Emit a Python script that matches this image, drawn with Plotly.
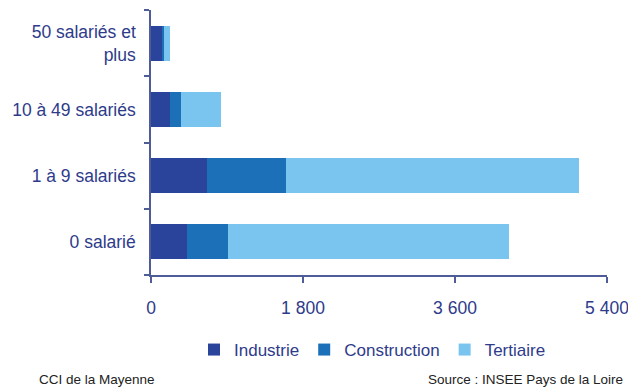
import plotly.graph_objects as go

# Établissements par tranche d'effectif et par secteur
categories = ["0 salarié", "1 à 9 salariés", "10 à 49 salariés", "50 salariés et<br>plus"]
industrie = [430, 665, 225, 135]
construction = [480, 930, 130, 15]
tertiaire = [3335, 3470, 470, 75]

x_ticks = [0, 1800, 3600, 5400]
x_tick_labels = ["0", "1 800", "3 600", "5 400"]

text_color = "#2E3B8A"
axis_color = "#4E5C98"
font_family = "Liberation Sans, Arial, sans-serif"

fig = go.Figure()
for name, values, color in [
    ("Industrie", industrie, "#2B449B"),
    ("Construction", construction, "#1C70B8"),
    ("Tertiaire", tertiaire, "#79C5EF"),
]:
    fig.add_trace(go.Bar(
        y=categories, x=values, name=name, orientation="h",
        marker=dict(color=color, line=dict(width=0)),
    ))

W, H = 628, 387
L, R, T, B = 151, 21, 10, 112
pw, ph = W - L - R, H - T - B

def px_x(p):
    return (p - L) / pw

def px_y(p):
    return (H - B - p) / ph

fig.update_layout(
    width=W, height=H,
    margin=dict(l=L, r=R, t=T, b=B, pad=0, autoexpand=False),
    barmode="stack", bargap=0.47,
    plot_bgcolor="white", paper_bgcolor="white",
    font=dict(family=font_family, color=text_color, size=17.5),
    showlegend=True,
    legend=dict(
        orientation="h", x=px_x(194), xanchor="left",
        y=px_y(350), yanchor="middle",
        font=dict(size=17, color=text_color),
        traceorder="normal", itemclick=False,
    ),
    xaxis=dict(
        range=[0, 5400], tickvals=x_ticks, ticktext=x_tick_labels,
        showgrid=False, zeroline=False, showline=True, automargin=False,
        linecolor=axis_color, linewidth=1.5,
        ticks="outside", ticklen=6, tickcolor=axis_color, tickwidth=1.5,
        ticklabelstandoff=10, ticklabeloverflow="allow",
        tickfont=dict(size=17.5, color=text_color),
        fixedrange=True,
    ),
    yaxis=dict(
        type="category", categoryorder="array", categoryarray=categories,
        showgrid=False, zeroline=False, showline=True, automargin=False,
        linecolor=axis_color, linewidth=1.5,
        ticks="outside", tickson="boundaries", ticklen=5,
        tickcolor=axis_color, tickwidth=1.5,
        ticklabelstandoff=10, ticklabeloverflow="allow",
        tickfont=dict(size=17.5, color=text_color),
        fixedrange=True,
    ),
    annotations=[
        dict(text="CCI de la Mayenne", xref="paper", yref="paper",
             x=px_x(37), y=px_y(379), xanchor="left", yanchor="middle",
             showarrow=False, font=dict(size=13.5, color="#222222")),
        dict(text="Source : INSEE Pays de la Loire", xref="paper", yref="paper",
             x=px_x(625), y=px_y(379), xanchor="right", yanchor="middle",
             showarrow=False, font=dict(size=13.5, color="#222222")),
    ],
)

fig.write_html("out.html")
